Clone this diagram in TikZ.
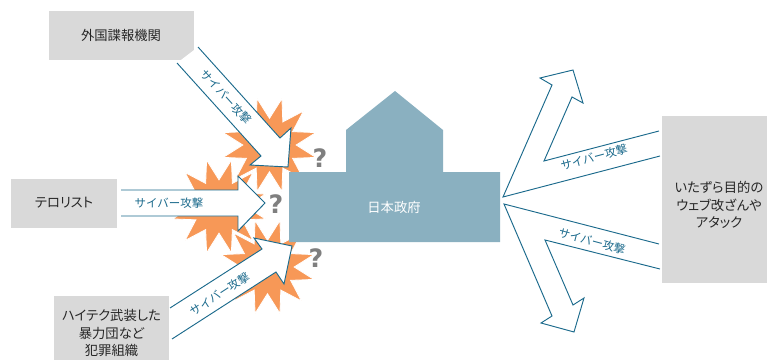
\documentclass[tikz,border=0pt]{standalone}
\usepackage{fontspec}
\setmainfont{Noto Sans CJK JP}
\newfontfamily\paltfont[RawFeature=+palt]{Noto Sans CJK JP}
\newfontfamily\qfont{DejaVu Sans}
\usetikzlibrary{shapes.geometric}
\definecolor{boxgray}{HTML}{D9D9D9}
\definecolor{roofblue}{HTML}{8AB0C0}
\definecolor{burst}{HTML}{F79857}
\definecolor{linkteal}{HTML}{1B6A8C}
\definecolor{qgray}{HTML}{7F7F7F}
\tikzset{
  actor/.style={fill=boxgray,inner sep=0pt},
  actortext/.style={align=center,font=\paltfont\fontsize{10}{13.4}\selectfont,text=black!85,inner sep=0pt},
  attack/.style={draw=linkteal,fill=white,line width=.7pt,line join=miter},
  attacktext/.style={text=linkteal,font=\fontsize{8.6}{10}\selectfont,inner sep=0pt},
  spark/.style={star,star points=12,star point ratio=1.8,fill=burst,draw=white,line width=.6pt,inner sep=0pt,minimum size=72pt,shape border rotate=15},
  query/.style={text=qgray,font=\qfont\bfseries\fontsize{19}{19}\selectfont,inner sep=0pt},
}
\begin{document}
\begin{tikzpicture}[x=.75pt,y=-.75pt]
\useasboundingbox (0,0) rectangle (767,360);
% boxes
\node[actor,minimum width=108.75pt,minimum height=36.75pt] (spy) at (121.5,35.5) {};
\node[actor,minimum width=79.5pt,minimum height=36.75pt] (terror) at (64,203.5) {};
\node[actor,minimum width=86.25pt,minimum height=48pt] (crime) at (111.5,328) {};
\node[actor,minimum width=78.75pt,minimum height=125.25pt] (prank) at (714.5,199.5) {};
\node[actortext] (spytext) at (121,35) {外国諜報機関};
\node[actortext] (terrortext) at (64,203) {テロリスト};
\node[actortext] (crimetext) at (111.5,333) {ハイテク武装した\\暴力団など\\犯罪組織};
\node[actortext] (pranktext) at (719,205) {いたずら目的の\\ウェブ改ざんや\\アタック};
% bursts
\node[spark] (b2) at (219,206.5) {};
\node[spark] (b3) at (267.5,267) {};
\node[spark] (b1) at (269.5,145) {};
% building
\fill[roofblue] (289,172) -- (346,172) -- (346,130) -- (395,91) -- (443,130) -- (443,172) -- (500,172) -- (500,242) -- (289,242) -- cycle;
\node[text=white,font=\fontsize{10}{10}\selectfont] (gov) at (394,207) {日本政府};
% attacks in
\draw[attack] (198,47) -- (280,138) -- (291,128) -- (288,167) -- (250,165) -- (261,156) -- (177,63);
\draw[attack] (121,190) -- (238,190) -- (238,176) -- (265,203) -- (238,231) -- (238,216) -- (121,216);
\draw[attack] (170,308) -- (262,249) -- (254,238) -- (292,246) -- (284,284) -- (276,272) -- (172,339);
% attacks out
\draw[attack] (659,131) -- (544,161) -- (572,97) -- (583,103) -- (573,70) -- (540,78) -- (552,85) -- (503,197) -- (660,156);
\draw[attack] (659,244) -- (504,204) -- (552,316) -- (541,323) -- (574,332) -- (584,298) -- (573,305) -- (545,240) -- (660,269);
% labels
\node[attacktext,rotate=-48] (t1) at (226,97) {サイバー攻撃};
\node[attacktext] (t2) at (169,203) {サイバー攻撃};
\node[attacktext,rotate=33] (t3) at (220,294) {サイバー攻撃};
\node[attacktext,rotate=15] (t4) at (594,157) {サイバー攻撃};
\node[attacktext,rotate=-15] (t5) at (592,241) {サイバー攻撃};
\node[query] (q1) at (320,158) {?};
\node[query] (q2) at (276,204) {?};
\node[query] (q3) at (316,258) {?};
\end{tikzpicture}
\end{document}
